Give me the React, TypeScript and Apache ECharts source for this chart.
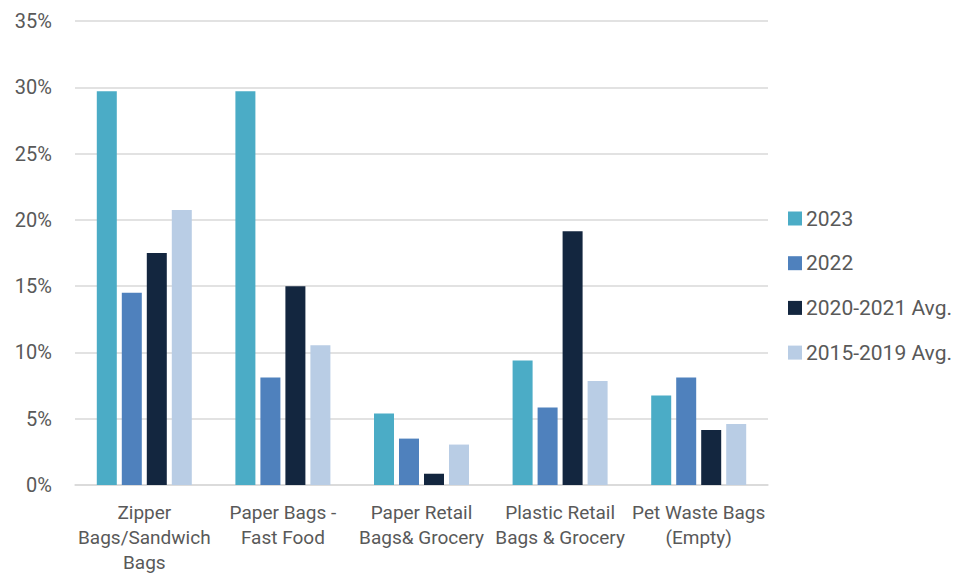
import React, { useEffect, useRef } from "react";
import * as echarts from "echarts";

const categories = [
  "Zipper\nBags/Sandwich\nBags",
  "Paper Bags -\nFast Food",
  "Paper Retail\nBags& Grocery",
  "Plastic Retail\nBags & Grocery",
  "Pet Waste Bags\n(Empty)",
];
const seriesNames = ["2023", "2022", "2020-2021 Avg.", "2015-2019 Avg."];
const values2023 = [29.7, 29.7, 5.4, 9.4, 6.75];
const values2022 = [14.5, 8.1, 3.5, 5.85, 8.1];
const values2020_2021 = [17.5, 15.0, 0.85, 19.15, 4.15];
const values2015_2019 = [20.75, 10.55, 3.05, 7.85, 4.6];
const yTicks = { min: 0, max: 35, interval: 5 };

const colors = ["#4BACC6", "#4F81BD", "#13263F", "#B9CDE5"];
const FONT = "Roboto";
const TEXT = "#595959";

export default function App() {
  const ref = useRef<HTMLDivElement>(null);
  useEffect(() => {
    document.body.style.margin = "0";
    if (!ref.current) return;
    const chart = echarts.init(ref.current, null, { renderer: "svg" });
    const data = [values2023, values2022, values2020_2021, values2015_2019];
    chart.setOption({
      animation: false,
      color: colors,
      textStyle: { fontFamily: FONT, color: TEXT },
      grid: { left: 75, right: 188, top: 21, bottom: 90, containLabel: false },
      legend: {
        orient: "vertical",
        left: 783,
        top: 203,
        itemWidth: 14,
        itemHeight: 14,
        itemGap: 23.7,
        icon: "rect",
        textStyle: { fontFamily: FONT, fontSize: 21, color: TEXT, lineHeight: 21, padding: [0, 0, 0, -1] },
        data: seriesNames,
      },
      xAxis: {
        type: "category",
        data: categories,
        axisTick: { show: false },
        axisLine: { lineStyle: { color: "#D9D9D9", width: 1.5 } },
        axisLabel: {
          interval: 0,
          fontFamily: FONT,
          fontSize: 19,
          color: TEXT,
          lineHeight: 25,
          margin: 15,
        },
      },
      yAxis: {
        type: "value",
        min: yTicks.min,
        max: yTicks.max,
        interval: yTicks.interval,
        axisLine: { show: false },
        axisTick: { show: false },
        splitLine: { lineStyle: { color: "#D9D9D9", width: 1.5 } },
        axisLabel: {
          formatter: "{value}%",
          fontFamily: FONT,
          fontSize: 20,
          color: TEXT,
          margin: 23,
        },
      },
      series: seriesNames.map((name, i) => ({
        name,
        type: "bar",
        data: data[i],
        barWidth: 20,
        barGap: "25%",
        itemStyle: { color: colors[i] },
      })),
    });
    return () => chart.dispose();
  }, []);
  return <div ref={ref} style={{ width: 956, height: 575 }} />;
}
